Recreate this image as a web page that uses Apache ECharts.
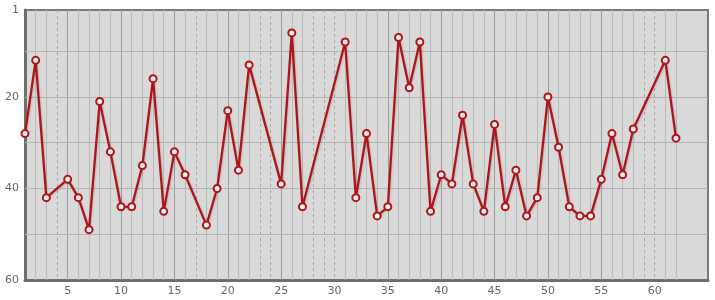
<!DOCTYPE html>
<html>
<head>
<meta charset="utf-8">
<script src="https://cdn.jsdelivr.net/npm/echarts@6/dist/echarts.min.js"></script>
<style>
html,body{margin:0;padding:0;background:#fff;}
#c{width:715px;height:300px;}
</style>
</head>
<body>
<div id="c"></div>
<script>
// Data (x position, rank value)
var xs = [1,2,3,5,6,7,8,9,10,11,12,13,14,15,16,18,19,20,21,22,25,26,27,31,32,33,34,35,36,37,38,39,40,41,42,43,44,45,46,47,48,49,50,51,52,53,54,55,56,57,58,61,62];
var ys = [28,12,42,38,42,49,21,32,44,44,35,16,45,32,37,48,40,23,36,13,39,6,44,8,42,28,46,44,7,18,8,45,37,39,24,39,45,26,44,36,46,42,20,31,44,46,46,38,28,37,27,12,29];
var xTickLabels = [5,10,15,20,25,30,35,40,45,50,55,60];
var yTickLabels = [1,20,40,60];
var yGridValues = [10,20,30,40,50];

var points = xs.map(function(x,i){return [x, ys[i]];});

// grid lines derived from the data positions
var vLines = [];
var lastX = xs[xs.length-1];
for (var x = 2; x <= lastX; x++) {
  var present = xs.indexOf(x) >= 0;
  var style;
  if (!present) style = {color:'#a8a8a8', width:1, type:[3,3]};
  else if (x % 5 === 0) style = {color:'#9c9c9c', width:1, type:'solid'};
  else style = {color:'#bababa', width:1, type:'solid'};
  vLines.push({xAxis: x, lineStyle: style});
}
var hLines = yGridValues.map(function(v){return {yAxis: v, lineStyle:{color:'#b4b4b4', width:1, type:'solid'}};});

var chart = echarts.init(document.getElementById('c'), null, {renderer:'canvas'});
chart.setOption({
  animation:false,
  backgroundColor:'#ffffff',
  grid:{left:25, right:7, top:10, bottom:20, show:true, backgroundColor:'#d9d9d9', borderColor:'#7a7a7a', borderWidth:2},
  xAxis:{
    type:'value', min:1, max:65,
    axisLine:{show:true, onZero:false, lineStyle:{color:'#6e6e6e', width:3}},
    axisTick:{show:false},
    splitLine:{show:false},
    axisLabel:{customValues:xTickLabels, color:'#666', fontFamily:'DejaVu Sans', fontSize:11, margin:6}
  },
  yAxis:{
    type:'value', min:1, max:60, inverse:true,
    axisLine:{show:true, onZero:false, lineStyle:{color:'#6e6e6e', width:3}},
    axisTick:{show:false},
    splitLine:{show:false},
    axisLabel:{customValues:yTickLabels, color:'#666', fontFamily:'DejaVu Sans', fontSize:11, margin:6}
  },
  series:[
    {
      type:'line', data:points, silent:true, symbol:'none',
      lineStyle:{opacity:0}, z:1,
      markLine:{silent:true, symbol:['none','none'], label:{show:false}, animation:false,
        data: vLines.concat(hLines)}
    },
    {
      type:'line', data:points, z:5,
      symbol:'circle', symbolSize:7,
      lineStyle:{color:'#b01419', width:2.3, shadowColor:'rgba(0,0,0,0.15)', shadowBlur:2, shadowOffsetX:1, shadowOffsetY:1},
      itemStyle:{color:'#f0f0f0', borderColor:'#b01419', borderWidth:2}
    }
  ]
});
</script>
</body>
</html>
